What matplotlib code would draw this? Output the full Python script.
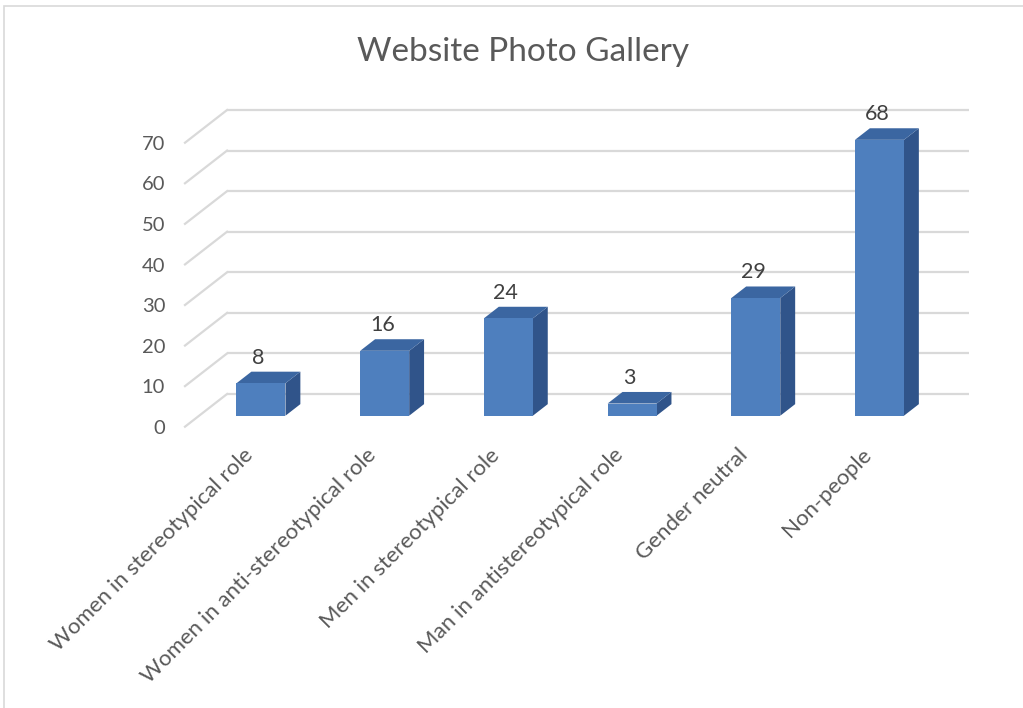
import matplotlib.pyplot as plt
from matplotlib.patches import Polygon, Rectangle

# chart data
categories = ['Women in stereotypical role', 'Women in anti-stereotypical role',
              'Men in stereotypical role', 'Man in antistereotypical role',
              'Gender neutral', 'Non-people']
counts = [8, 16, 24, 3, 29, 68]
y_ticks = [0, 10, 20, 30, 40, 50, 60, 70]
title = 'Website Photo Gallery'

# fake 3D layout: how far the back wall sits from the front plane
DEPTH_X = 0.34      # in category slots
DEPTH_Y = 8.06      # in value units
BAR_FRONT, BAR_BACK = 0.336, 0.69   # bar depth as fraction of floor depth
BAR_W = 0.396

FRONT = '#4e7fbe'
TOP = '#3b66a1'
SIDE = '#30548a'
GRID = '#d9d9d9'
TEXT = '#595959'

plt.rcParams['font.family'] = ['Lato', 'DejaVu Sans']

W, H = 1023, 708
fig = plt.figure(figsize=(W / 100, H / 100), dpi=100)
ax = fig.add_axes([0, 0, 1, 1])
ax.axis('off')

# pixel scale: one category slot = 123.7 px, ten units = 40.57 px
px_x, px_y = 123.7, 4.057
x0_px, y0_px = 185, 426.7
ax.set_xlim(-x0_px / px_x, (W - x0_px) / px_x)
ax.set_ylim(-(H - y0_px) / px_y, y0_px / px_y)

n = len(categories)

# back wall and side wall gridlines
for v in y_ticks:
    ax.plot([DEPTH_X, n + DEPTH_X], [v + DEPTH_Y, v + DEPTH_Y],
            color=GRID, lw=1.6, zorder=1, solid_capstyle='butt')
    ax.plot([0, DEPTH_X], [v, v + DEPTH_Y], color=GRID, lw=1.6, zorder=1)
    ax.text(-0.16, v - 0.4, str(v), ha='right', va='center', fontsize=14.5, color=TEXT)


def shift(x, y, d):
    return (x + d * DEPTH_X, y + d * DEPTH_Y)


for i, v in enumerate(counts):
    left = i + (1 - BAR_W) / 2
    right = left + BAR_W
    fl, fr = BAR_FRONT, BAR_BACK
    front = [shift(left, 0, fl), shift(right, 0, fl), shift(right, v, fl), shift(left, v, fl)]
    top = [shift(left, v, fl), shift(right, v, fl), shift(right, v, fr), shift(left, v, fr)]
    side = [shift(right, 0, fl), shift(right, 0, fr), shift(right, v, fr), shift(right, v, fl)]
    ax.add_patch(Polygon(side, closed=True, fc=SIDE, ec='none', zorder=3))
    ax.add_patch(Polygon(top, closed=True, fc=TOP, ec='none', zorder=3))
    ax.add_patch(Polygon(front, closed=True, fc=FRONT, ec='none', zorder=4))
    lx, ly = shift(i + 0.5, v, fl)
    ax.text(lx - 0.02, v + fr * DEPTH_Y + 1.0, str(v), ha='center', va='bottom',
            fontsize=15.5, color='#404040', zorder=5)
    # category labels hang from the front floor edge
    cx, _ = shift(i + 0.5, 0, fl)
    ax.text(cx - 0.15, -4.5, categories[i], rotation=45, rotation_mode='anchor',
            ha='right', va='top', fontsize=16, color=TEXT)

fig.text(0.511, 1 - 52 / H, title, ha='center', va='center', fontsize=24, color=TEXT)

# chart area border, cut off at the right and bottom
fig.patches.append(Rectangle((4 / W, -0.1), 1.2, 1.1 - 6 / H, transform=fig.transFigure,
                             fill=False, ec=GRID, lw=1.2))

fig.savefig('out.png', dpi=100)
